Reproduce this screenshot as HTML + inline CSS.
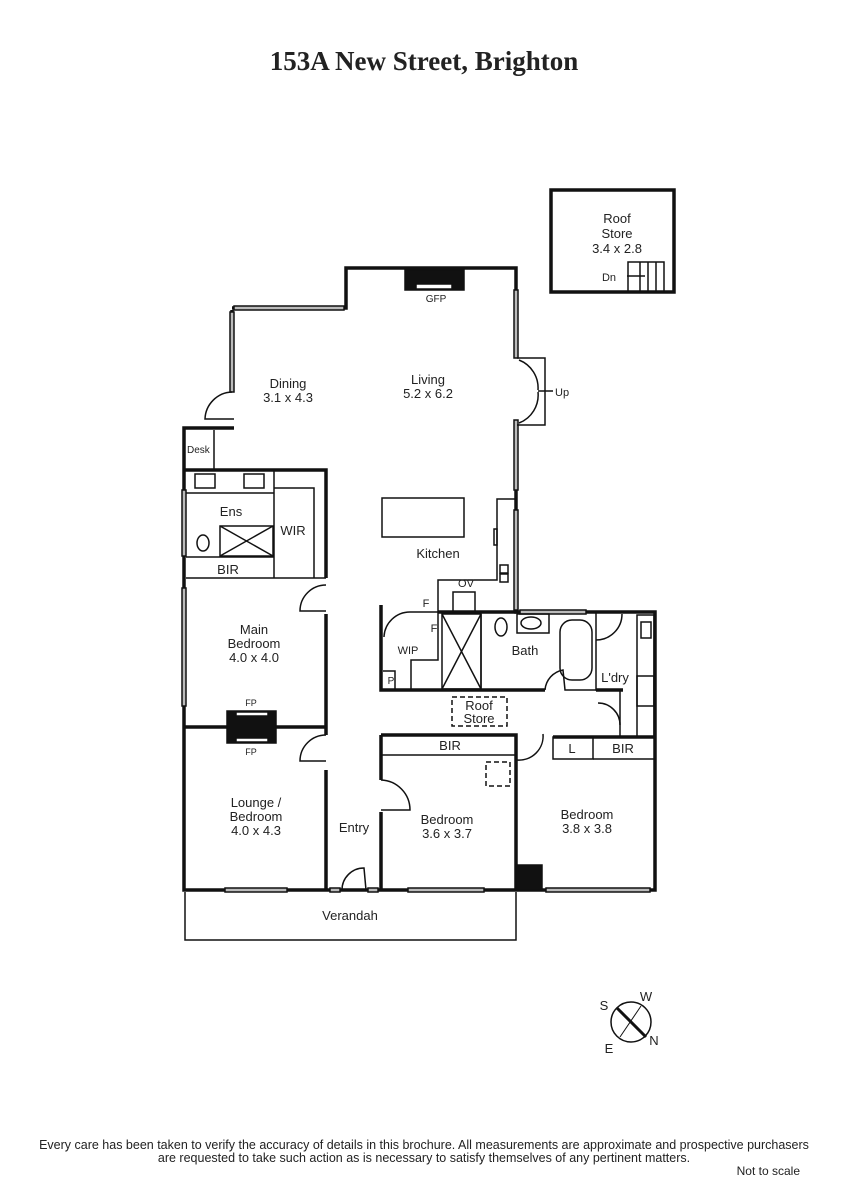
<!DOCTYPE html>
<html><head><style>
body{margin:0;background:#fff;width:848px;height:1200px;overflow:hidden}
svg{display:block}
text{font-family:"Liberation Sans",sans-serif;fill:#222}
</style></head><body>
<svg width="848" height="1200" viewBox="0 0 848 1200">
<text x="424" y="70" text-anchor="middle" style="font-family:'Liberation Serif',serif;font-weight:bold;font-size:27px" fill="#111">153A New Street, Brighton</text>

<g stroke="#111" fill="none" stroke-width="3.5">
<rect x="551" y="190" width="123" height="102"/>
<polyline points="232,310 232,392"/>
<polyline points="232,308 346,308 346,268 516,268 516,358"/>
<polyline points="516,420 516,612 655,612 655,890 184,890 184,428 234,428"/>
<polyline points="184,470 326,470 326,578"/>
<polyline points="326,614 326,727"/>
<line x1="184" y1="727" x2="326" y2="727"/>
<polyline points="326,727 326,735"/>
<polyline points="326,770 326,890"/>
<polyline points="381,605 381,690 545,690"/>
<polyline points="381,735 516,735 516,890"/>
<polyline points="381,735 381,780"/>
<polyline points="381,812 381,890"/>
<polyline points="596,690 623,690"/>
<polyline points="553,737 655,737"/>
<polyline points="438,612 516,612"/>
</g>
<g stroke="#111" fill="none" stroke-width="1.5">
<rect x="182" y="490" width="4" height="66" fill="#bbb"/>
<rect x="182" y="588" width="4" height="118" fill="#bbb"/>
<rect x="230" y="312" width="4" height="80" fill="#bbb"/>
<rect x="234" y="306" width="110" height="4" fill="#bbb"/>
<rect x="514" y="290" width="4" height="68" fill="#bbb"/>
<rect x="514" y="420" width="4" height="70" fill="#bbb"/>
<rect x="514" y="510" width="4" height="100" fill="#bbb"/>
<rect x="225" y="888" width="62" height="4" fill="#bbb"/>
<rect x="408" y="888" width="76" height="4" fill="#bbb"/>
<rect x="546" y="888" width="104" height="4" fill="#bbb"/>
<rect x="520" y="610" width="66" height="4" fill="#bbb"/>
<rect x="405" y="270" width="59" height="20" fill="#111"/>
<rect x="416" y="284" width="36" height="5" fill="#fff"/>
<polyline points="517,358 545,358 545,425 517,425"/>
<path d="M519,360 A30,30 0 0 1 538,390 M519,423 A30,30 0 0 0 538,392"/>
<line x1="538" y1="391" x2="553" y2="391"/>
<path d="M232,392 A28,28 0 0 0 205,419 L234,419"/>
<line x1="214" y1="430" x2="214" y2="470"/>
<line x1="186" y1="493" x2="274" y2="493"/>
<line x1="274" y1="470" x2="274" y2="578"/>
<rect x="195" y="474" width="20" height="14"/><rect x="244" y="474" width="20" height="14"/>
<line x1="186" y1="557" x2="274" y2="557"/>
<line x1="186" y1="578" x2="326" y2="578"/>
<rect x="220" y="526" width="53" height="30"/>
<line x1="220" y1="526" x2="273" y2="556"/><line x1="273" y1="526" x2="220" y2="556"/>
<ellipse cx="203" cy="543" rx="6" ry="8"/>
<polyline points="274,488 314,488 314,578"/>
<path d="M326,585 A26,26 0 0 0 300,611 L326,611"/>
<rect x="227" y="711" width="49" height="32" fill="#111"/>
<rect x="236" y="712" width="32" height="4" fill="#fff"/><rect x="236" y="738" width="32" height="4" fill="#fff"/>
<path d="M326,735 A26,26 0 0 0 300,761 L326,761"/>
<rect x="382" y="498" width="82" height="39"/>
<polyline points="517,499 497,499 497,580 438,580 438,612"/>
<rect x="494" y="529" width="3" height="16"/>
<rect x="500" y="565" width="8" height="8"/><rect x="500" y="574" width="8" height="8"/>
<rect x="453" y="592" width="22" height="20"/>
<path d="M384,637 A26,26 0 0 1 410,612 L438,612"/>
<polyline points="383,671 395,671 395,690"/>
<polyline points="411,690 411,660 438,660 438,612"/>
<rect x="442" y="614" width="39" height="75"/>
<line x1="442" y1="614" x2="481" y2="689"/><line x1="481" y1="614" x2="442" y2="689"/>
<line x1="481" y1="614" x2="481" y2="690"/>
<ellipse cx="501" cy="627" rx="6" ry="9"/>
<rect x="517" y="614" width="32" height="19"/>
<ellipse cx="531" cy="623" rx="10" ry="6"/>
<rect x="560" y="620" width="32" height="60" rx="12"/>
<polyline points="596,612 596,690 620,690 620,737"/>
<path d="M596,640 A26,26 0 0 0 622,614 M545,690 A22,22 0 0 1 563,670 L565,690 L596,690"/>
<path d="M620,725 A22,22 0 0 0 598,703"/>
<rect x="637" y="615" width="17" height="122"/>
<rect x="641" y="622" width="10" height="16"/>
<rect x="637" y="676" width="17" height="30"/>
<rect x="452" y="697" width="55" height="29" stroke-dasharray="5,3"/>
<rect x="486" y="762" width="24" height="24" stroke-dasharray="5,3"/>
<line x1="381" y1="755" x2="516" y2="755"/>
<rect x="553" y="737" width="40" height="22"/>
<line x1="593" y1="759" x2="655" y2="759"/>
<path d="M517,760 A24,24 0 0 0 543,734"/>
<path d="M381,780 A30,30 0 0 1 410,810 L381,810"/>
<path d="M342,890 A22,22 0 0 1 364,868 L366,890"/>
<rect x="330" y="888" width="10" height="4" fill="#bbb"/>
<rect x="368" y="888" width="10" height="4" fill="#bbb"/>
<polyline points="185,892 185,940 516,940 516,892"/>
<rect x="516" y="865" width="26" height="25" fill="#111"/>
<polyline points="628,292 628,262 664,262 664,292"/>
<line x1="640" y1="262" x2="640" y2="292"/><line x1="648" y1="262" x2="648" y2="292"/><line x1="656" y1="262" x2="656" y2="292"/>
<line x1="627" y1="276" x2="645" y2="276"/>
<circle cx="631" cy="1022" r="20"/>
<line x1="617" y1="1008" x2="646" y2="1037" stroke-width="3"/>
<line x1="641" y1="1006" x2="620" y2="1037" stroke-width="1"/>
</g>
<g font-size="13">
<text x="617" y="223" text-anchor="middle">Roof</text>
<text x="617" y="238" text-anchor="middle">Store</text>
<text x="617" y="253" text-anchor="middle">3.4 x 2.8</text>
<text x="609" y="281" text-anchor="middle" font-size="11">Dn</text>
<text x="436" y="302" text-anchor="middle" font-size="10">GFP</text>
<text x="288" y="388" text-anchor="middle">Dining</text>
<text x="288" y="402" text-anchor="middle">3.1 x 4.3</text>
<text x="428" y="384" text-anchor="middle">Living</text>
<text x="428" y="398" text-anchor="middle">5.2 x 6.2</text>
<text x="555" y="396" font-size="11">Up</text>
<text x="187" y="453" font-size="10">Desk</text>
<text x="231" y="516" text-anchor="middle">Ens</text>
<text x="293" y="535" text-anchor="middle">WIR</text>
<text x="228" y="574" text-anchor="middle">BIR</text>
<text x="438" y="558" text-anchor="middle">Kitchen</text>
<text x="466" y="587" text-anchor="middle" font-size="11">OV</text>
<text x="426" y="607" text-anchor="middle" font-size="11">F</text>
<text x="434" y="632" text-anchor="middle" font-size="11">F</text>
<text x="408" y="654" text-anchor="middle" font-size="11">WIP</text>
<text x="391" y="684" text-anchor="middle" font-size="10">P</text>
<text x="525" y="655" text-anchor="middle">Bath</text>
<text x="615" y="682" text-anchor="middle">L'dry</text>
<text x="479" y="710" text-anchor="middle">Roof</text>
<text x="479" y="723" text-anchor="middle">Store</text>
<text x="254" y="634" text-anchor="middle">Main</text>
<text x="254" y="648" text-anchor="middle">Bedroom</text>
<text x="254" y="662" text-anchor="middle">4.0 x 4.0</text>
<text x="251" y="706" text-anchor="middle" font-size="9">FP</text>
<text x="251" y="755" text-anchor="middle" font-size="9">FP</text>
<text x="450" y="750" text-anchor="middle">BIR</text>
<text x="572" y="753" text-anchor="middle">L</text>
<text x="623" y="753" text-anchor="middle">BIR</text>
<text x="256" y="807" text-anchor="middle">Lounge /</text>
<text x="256" y="821" text-anchor="middle">Bedroom</text>
<text x="256" y="835" text-anchor="middle">4.0 x 4.3</text>
<text x="354" y="832" text-anchor="middle">Entry</text>
<text x="447" y="824" text-anchor="middle">Bedroom</text>
<text x="447" y="838" text-anchor="middle">3.6 x 3.7</text>
<text x="587" y="819" text-anchor="middle">Bedroom</text>
<text x="587" y="833" text-anchor="middle">3.8 x 3.8</text>
<text x="350" y="920" text-anchor="middle">Verandah</text>
<text x="604" y="1010" text-anchor="middle">S</text>
<text x="646" y="1001" text-anchor="middle">W</text>
<text x="609" y="1053" text-anchor="middle">E</text>
<text x="654" y="1045" text-anchor="middle">N</text>
</g>
<text x="424" y="1149" text-anchor="middle" font-size="12.5">Every care has been taken to verify the accuracy of details in this brochure.  All measurements are approximate and prospective purchasers</text>
<text x="424" y="1162" text-anchor="middle" font-size="12.5">are requested to take such action as is necessary to satisfy themselves of any pertinent matters.</text>
<text x="800" y="1175" text-anchor="end" font-size="12">Not to scale</text>
</svg>
</body></html>
